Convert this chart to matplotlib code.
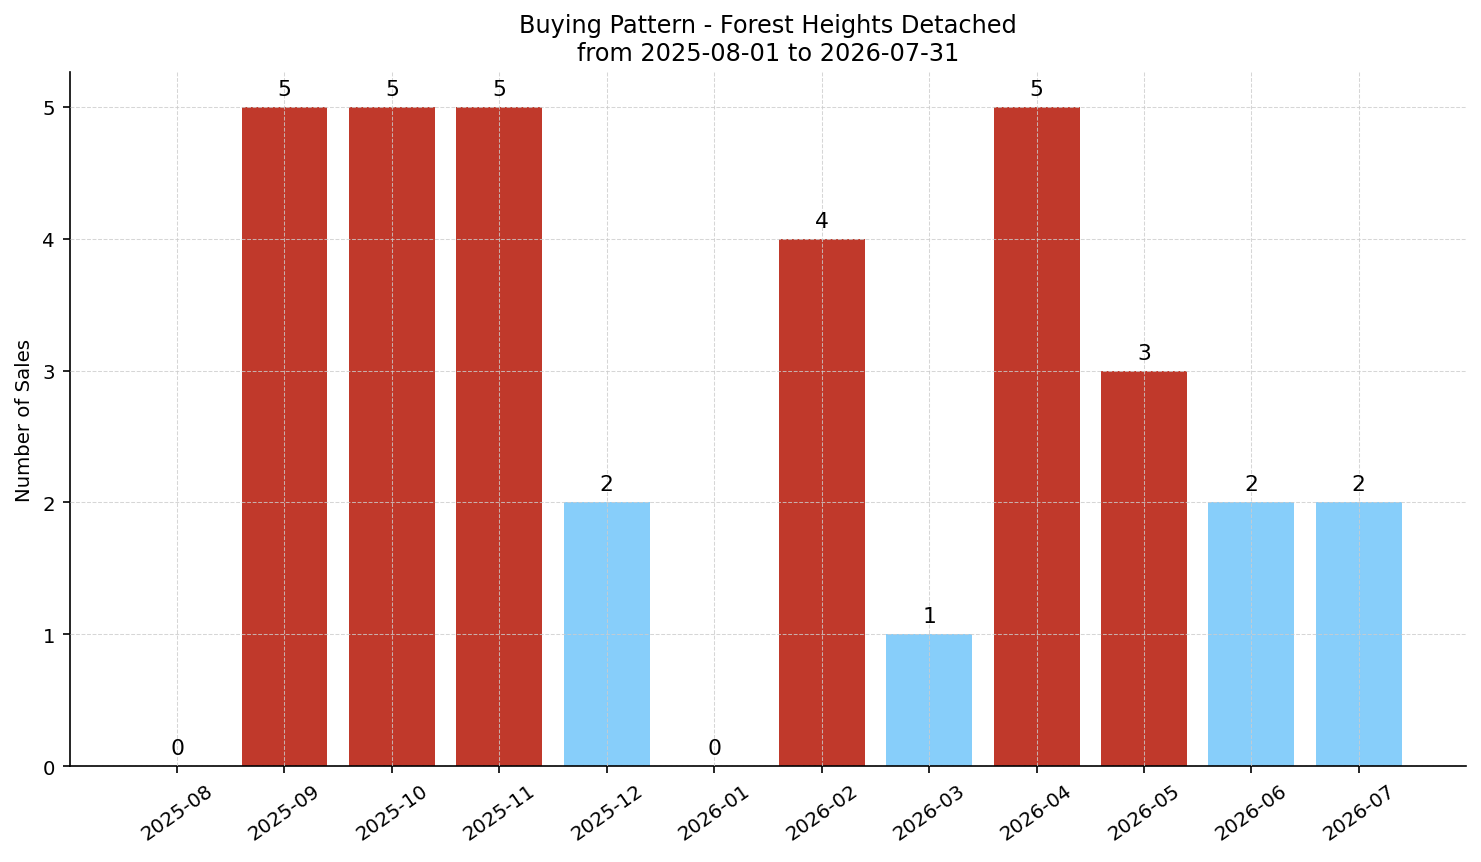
import matplotlib.pyplot as plt

# Monatliche Verkäufe
months = ["2025-08", "2025-09", "2025-10", "2025-11", "2025-12", "2026-01",
          "2026-02", "2026-03", "2026-04", "2026-05", "2026-06", "2026-07"]
sales = [0, 5, 5, 5, 2, 0, 4, 1, 5, 3, 2, 2]

RED = "#c0392b"
BLUE = "#87cefa"
colors = [RED if s >= 3 else BLUE for s in sales]

fig = plt.figure(figsize=(9.874, 5.753), dpi=150)
ax = fig.add_axes([0.047, 0.111, 0.943, 0.804])

x = range(len(months))
bars = ax.bar(x, sales, width=0.8, color=colors, zorder=1)
for xi, s in zip(x, sales):
    ax.text(xi, s + 0.06, str(s), ha="center", va="bottom", fontsize=10.5)

ax.set_xticks(list(x))
ax.set_xticklabels(months, rotation=35, ha="center", fontsize=9.5)
ax.tick_params(axis="y", labelsize=9.5)
ax.set_xlim(-1, 12)
ax.set_ylim(0, 5.26)
ax.set_ylabel("Number of Sales", fontsize=9.5)
ax.set_title("Buying Pattern - Forest Heights Detached\nfrom 2025-08-01 to 2026-07-31", fontsize=11.5)
ax.grid(True, linestyle="--", linewidth=0.5, color="#cccccc", alpha=0.8, zorder=2)
ax.set_axisbelow(False)
ax.spines["top"].set_visible(False)
ax.spines["right"].set_visible(False)

fig.savefig("out.png")
